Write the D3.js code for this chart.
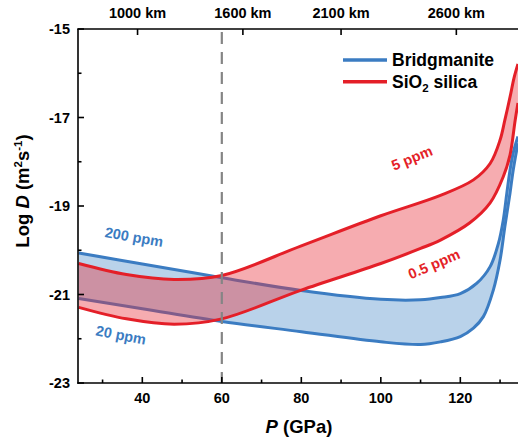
<!DOCTYPE html>
<html><head><meta charset="utf-8">
<script src="https://cdn.jsdelivr.net/npm/d3@7/dist/d3.min.js"></script>
<style>
body{margin:0;background:#fff;}
text{font-family:Arial,"Liberation Sans",sans-serif;font-weight:bold;}
</style></head>
<body><svg id="c" width="518" height="441"></svg>
<script>
// ---- data ----
const bridgUpperP = [24,40,60,80,100,110,115,120,124.1,127.5,129.6,130.8,131.7,132.5,133.3,134.5];
const bridgUpperD = [-20.06,-20.31,-20.62,-20.91,-21.11,-21.12,-21.07,-20.98,-20.75,-20.37,-19.84,-19.32,-18.71,-18.19,-17.80,-17.43];
const bridgLowerP = [24,40,60,80,100,110,115,120,123.3,125.8,128.3,130.0,131.2,132.5,133.3,134.5];
const bridgLowerD = [-21.09,-21.32,-21.61,-21.84,-22.07,-22.13,-22.07,-21.95,-21.76,-21.50,-20.90,-20.22,-19.47,-18.71,-18.19,-17.58];
const silUpperP = [24,36,48,60,80,100,115,123.3,127.5,130,131.2,132.5,133.5,134.5];
const silUpperD = [-20.30,-20.55,-20.66,-20.57,-19.90,-19.22,-18.76,-18.41,-18.04,-17.51,-17.06,-16.54,-16.11,-15.79];
const silLowerP = [24,36,48,60,80,100,110,115,122.4,127.5,130.8,132.5,133.8,134.5];
const silLowerD = [-21.29,-21.55,-21.67,-21.55,-20.90,-20.30,-19.96,-19.77,-19.38,-18.93,-18.34,-17.85,-17.06,-16.67];
const xTicks = [40,60,80,100,120];
const xMinor = [30,50,70,90,110,130];
const yTicks = [-23,-21,-19,-17,-15];
const yMinor = [-22,-20,-18,-16];
const depthLabels = ["1000 km","1600 km","2100 km","2600 km"];
const depthP = [38.8,65.3,90.0,119.0];
const transitionP = 60;
const seriesNames = ["Bridgmanite","SiO2 silica"];

// ---- layout ----
const svg = d3.select("#c");
const L=78, T=29, B=383;
const x = d3.scaleLinear().domain([23.82,135.8]).range([L, L+(135.8-23.82)*3.975]);
const y = d3.scaleLinear().domain([-23,-15]).range([B,T]);
const R = x.range()[1];
const blue="#3b7cc2", red="#e41f28";

svg.append("defs").append("clipPath").attr("id","clip")
  .append("rect").attr("x",L).attr("y",T).attr("width",R-L).attr("height",B-T);
const g = svg.append("g").attr("clip-path","url(#clip)");

const zip=(P,D)=>P.map((p,i)=>[p,D[i]]);
const line = d3.line().x(d=>x(d[0])).y(d=>y(d[1])).curve(d3.curveCatmullRom.alpha(0.5));
function band(up, lo){
  const a = line(up);
  const tmp = document.createElementNS("http://www.w3.org/2000/svg","path");
  tmp.setAttribute("d", line(lo));
  svg.node().appendChild(tmp);
  const len = tmp.getTotalLength(); const pts=[];
  for(let s=len;s>=0;s-=1){const p=tmp.getPointAtLength(s);pts.push([p.x,p.y]);}
  const p0=tmp.getPointAtLength(0); pts.push([p0.x,p0.y]);
  tmp.remove();
  return a + pts.map(p=>"L"+p[0]+","+p[1]).join("") + "Z";
}

const bU=zip(bridgUpperP,bridgUpperD), bL=zip(bridgLowerP,bridgLowerD);
const sU=zip(silUpperP,silUpperD), sL=zip(silLowerP,silLowerD);

g.append("path").attr("d",band(bU,bL)).attr("fill","#b9d2ea");
svg.append("line").attr("x1",x(transitionP)).attr("x2",x(transitionP)).attr("y1",T+3).attr("y2",B)
  .attr("stroke","#858585").attr("stroke-width",2.2).attr("stroke-dasharray","12,8");
[bU,bL].forEach(d=>g.append("path").attr("d",line(d)).attr("fill","none").attr("stroke",blue).attr("stroke-width",3));
g.append("path").attr("d",band(sU,sL)).attr("fill","#e8303a").attr("fill-opacity",0.4);
[sU,sL].forEach(d=>g.append("path").attr("d",line(d)).attr("fill","none").attr("stroke",red).attr("stroke-width",3));

// ---- axes ----
const ax = svg.append("g").attr("stroke","#000").attr("stroke-width",1.6);
ax.append("line").attr("x1",L).attr("x2",L).attr("y1",T).attr("y2",B+0.8);
ax.append("line").attr("x1",L-0.8).attr("x2",R).attr("y1",B).attr("y2",B);
ax.append("line").attr("x1",L-0.8).attr("x2",R).attr("y1",T).attr("y2",T);
xTicks.forEach(t=>ax.append("line").attr("x1",x(t)).attr("x2",x(t)).attr("y1",B).attr("y2",B-6));
xMinor.forEach(t=>ax.append("line").attr("x1",x(t)).attr("x2",x(t)).attr("y1",B).attr("y2",B-3.5));
yTicks.forEach(t=>ax.append("line").attr("x1",L).attr("x2",L+6).attr("y1",y(t)).attr("y2",y(t)));
yMinor.forEach(t=>ax.append("line").attr("x1",L).attr("x2",L+3.5).attr("y1",y(t)).attr("y2",y(t)));
depthP.forEach(t=>ax.append("line").attr("x1",x(t)).attr("x2",x(t)).attr("y1",T).attr("y2",T+6));

svg.selectAll(".xt").data(xTicks).join("text").attr("x",d=>x(d)).attr("y",B+20)
  .attr("text-anchor","middle").attr("font-size",14.5).text(d=>d);
svg.selectAll(".yt").data(yTicks).join("text").attr("x",L-8).attr("y",d=>y(d)+5)
  .attr("text-anchor","end").attr("font-size",14.5).text(d=>d);
svg.selectAll(".tt").data(depthLabels).join("text").attr("x",(d,i)=>x(depthP[i])).attr("y",18)
  .attr("text-anchor","middle").attr("font-size",14.5).text(d=>d);

// axis titles
const xt = svg.append("text").attr("x",299).attr("y",433).attr("text-anchor","middle").attr("font-size",18.5);
xt.append("tspan").attr("font-style","italic").text("P");
xt.append("tspan").text(" (GPa)");
const yt = svg.append("text").attr("transform","translate(29,191) rotate(-90)").attr("text-anchor","middle").attr("font-size",18.5);
yt.append("tspan").text("Log ");
yt.append("tspan").attr("font-style","italic").text("D");
yt.append("tspan").text(" (m");
yt.append("tspan").attr("font-size",11.5).attr("dy",-7).text("2");
yt.append("tspan").attr("dy",7).text("s");
yt.append("tspan").attr("font-size",11.5).attr("dy",-7).text("-1");
yt.append("tspan").attr("dy",7).text(")");

// legend
const lg = svg.append("g");
[blue,red].forEach((c,i)=>{
  lg.append("line").attr("x1",343).attr("x2",387).attr("y1",60+i*21.7).attr("y2",60+i*21.7)
    .attr("stroke",c).attr("stroke-width",3.5);
});
lg.append("text").attr("x",392).attr("y",66).attr("font-size",17.5).text(seriesNames[0]);
const l2 = lg.append("text").attr("x",392).attr("y",88).attr("font-size",17.5);
l2.append("tspan").text("SiO");
l2.append("tspan").attr("font-size",11.5).attr("dy",4).text("2");
l2.append("tspan").attr("dy",-4).text(" silica");

// annotations
function ann(t,cx,cy,rot,c){
  svg.append("text").attr("transform",`translate(${cx},${cy}) rotate(${rot})`).attr("text-anchor","middle")
    .attr("dy","0.35em").attr("font-size",14.5).attr("fill",c).text(t);
}
ann("200 ppm",134,237,10,blue);
ann("20 ppm",121,335,11,blue);
ann("5 ppm",412,158,-22,red);
ann("0.5 ppm",434,264,-23,red);
</script></body></html>
